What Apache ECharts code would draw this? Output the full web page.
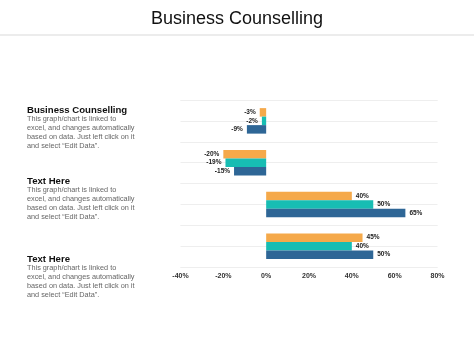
<!DOCTYPE html>
<html><head><meta charset="utf-8">
<script src="https://cdn.jsdelivr.net/npm/echarts@6/dist/echarts.min.js"></script>
<style>html,body{margin:0;padding:0;background:#fff}#c{width:474px;height:355px}</style>
</head><body><div id="c"></div>
<script>
var categories = ['Business Counselling', 'Text Here A', 'Text Here B', 'Text Here C'];
var seriesOrange = [-3, -20, 40, 45];
var seriesTeal = [-2, -19, 50, 40];
var seriesBlue = [-9, -15, 65, 50];
var xTicks = [-40, -20, 0, 20, 40, 60, 80];
var headings = ['Business Counselling', 'Text Here', 'Text Here'];
var bodyText = 'This graph/chart is linked to\nexcel, and changes automatically\nbased on data. Just left click on it\nand select \u201cEdit Data\u201d.';

var chart = echarts.init(document.getElementById('c'), null, {renderer: 'canvas'});
function mk(vals) {
  return vals.map(function (v) {
    return {value: v, label: {position: v < 0 ? 'left' : 'right'}};
  });
}
var labelCfg = {show: true, formatter: function (p) { return p.value + '%'; }, fontSize: 6.5, fontWeight: 'bold', color: '#222', distance: 4, fontFamily: 'Liberation Sans'};
var headY = [110, 181, 259];
var graphics = [
  {type: 'line', shape: {x1: 0, y1: 35, x2: 474, y2: 35}, style: {stroke: '#ececec', lineWidth: 2}}
];
headY.forEach(function (y, i) {
  graphics.push({type: 'text', left: 27, top: y - 6, style: {text: headings[i], font: 'bold 9.6px "Liberation Sans", Arial', fill: '#111', lineHeight: 12}});
  graphics.push({type: 'text', left: 27, top: y + 9.3 - 4.45, style: {text: bodyText, font: '7.3px "Liberation Sans", Arial', fill: '#666', lineHeight: 8.9}});
});
chart.setOption({
  animation: false,
  title: {text: 'Business Counselling', left: 'center', top: 5, textStyle: {fontSize: 18, fontWeight: 'normal', color: '#111', fontFamily: 'Liberation Sans'}},
  graphic: graphics,
  grid: {left: 180.5, right: 36.5, top: 100, bottom: 88},
  xAxis: {type: 'value', min: xTicks[0], max: xTicks[xTicks.length - 1], interval: 20,
    axisLine: {show: false}, axisTick: {show: false}, splitLine: {show: false},
    axisLabel: {formatter: '{value}%', fontSize: 7, fontWeight: 'bold', color: '#333', margin: 6, fontFamily: 'Liberation Sans'}},
  yAxis: [
    {type: 'category', data: categories, inverse: true, axisLine: {show: false}, axisTick: {show: false}, axisLabel: {show: false},
      splitLine: {show: true, lineStyle: {color: '#eeeeee', width: 1}}},
    {type: 'value', min: 0, max: 8, interval: 1, axisLine: {show: false}, axisTick: {show: false}, axisLabel: {show: false},
      splitLine: {show: true, lineStyle: {color: '#eeeeee', width: 1}}}
  ],
  series: [
    {type: 'bar', name: 'A', data: mk(seriesOrange), barWidth: 8.5, barGap: '0%', itemStyle: {color: '#F5A94A'}, label: labelCfg},
    {type: 'bar', name: 'B', data: mk(seriesTeal), barWidth: 8.5, barGap: '0%', itemStyle: {color: '#17BDB3'}, label: labelCfg},
    {type: 'bar', name: 'C', data: mk(seriesBlue), barWidth: 8.5, barGap: '0%', itemStyle: {color: '#2E6696'}, label: labelCfg}
  ]
});
</script></body></html>
